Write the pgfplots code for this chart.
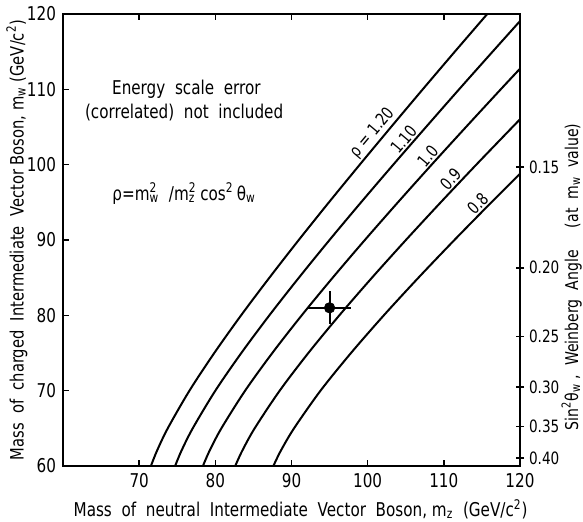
\documentclass[border=0pt]{standalone}
\usepackage{fontspec}
\setmainfont[FakeStretch=0.8]{DejaVu Sans}
\usepackage{pgfplots}
\pgfplotsset{compat=1.18}

% stacked super/subscript in text
\newcommand\supsub[2]{\rlap{\textsuperscript{#1}}\textsubscript{#2}}

\begin{document}
\begin{tikzpicture}[font=\fontsize{9.5}{11}\selectfont]
\begin{axis}[
    scale only axis,
    width=228.5pt, height=226pt,
    xmin=60, xmax=120, ymin=60, ymax=120,
    xtick={70,80,...,120},
    ytick={60,70,...,120},
    ytick pos=left,
    tick align=inside,
    major tick length=3pt,
    axis line style={line width=0.8pt},
    tick style={line width=0.8pt, black},
    /pgf/number format/assume math mode=true,
    xlabel={Mass\ \ of\ \ neutral\ \ Intermediate\ \ Vector\ \ Boson,\ m\textsubscript{z}\ \ (GeV/c\textsuperscript{2})},
    xlabel style={at={(axis description cs:0.52,-0.096)}, anchor=center},
    ylabel={Mass\ \ of\ \ charged\ \ Intermediate\ \ Vector\ Boson,\ m\textsubscript{w}\ (GeV/c\textsuperscript{2})},
    ylabel style={at={(axis description cs:-0.101,0.5)}, anchor=center, font=\fontsize{9.2}{11}\selectfont},
  ]
  % rho = 1.20
  \addplot[black, line width=1pt, smooth] coordinates {
    (71.54,60) (72.33,62) (73.75,65) (76.60,70) (79.86,75) (83.38,80) (87.10,85)
    (90.95,90) (94.91,95) (98.96,100) (103.07,105) (107.23,110) (111.44,115) (115.70,120)};
  % rho = 1.10
  \addplot[black, line width=1pt, smooth] coordinates {
    (74.72,60) (75.54,62) (77.03,65) (80.00,70) (83.41,75) (87.09,80) (90.97,85)
    (94.99,90) (99.13,95) (103.36,100) (107.66,105) (112.00,110) (116.40,115) (120,119.06)};
  % rho = 1.0
  \addplot[black, line width=1pt, smooth] coordinates {
    (78.37,60) (79.23,62) (80.79,65) (83.91,70) (87.48,75) (91.34,80) (95.41,85)
    (99.63,90) (103.97,95) (108.40,100) (112.91,105) (117.47,110) (120,112.74)};
  % rho = 0.9
  \addplot[black, line width=1pt, smooth] coordinates {
    (82.61,60) (83.52,62) (85.16,65) (88.45,70) (92.21,75) (96.28,80) (100.57,85)
    (105.02,90) (109.59,95) (114.26,100) (119.02,105) (120,106.02)};
  % rho = 0.8
  \addplot[black, line width=1pt, smooth] coordinates {
    (87.62,60) (88.58,62) (90.33,65) (93.81,70) (97.81,75) (102.12,80) (106.67,85)
    (111.39,90) (116.24,95) (120,98.79)};

  % measurement
  \addplot[black, only marks, mark=*, mark size=2.6pt,
    error bars/.cd, x dir=both, x explicit, y dir=both, y explicit,
    error mark=none, error bar style={line width=1pt}]
    coordinates {(95,81) +- (2.85,2.2)};

  \node at (axis cs:76.2,110.0) {Energy\ \ scale\ \ error};
  \node at (axis cs:75.9,106.9) {(correlated)\ \ not\ \ included};
  \node at (axis cs:75.9,96.2) {ρ=m\supsub{2}{w}\ \ /m\supsub{2}{z}\ cos\textsuperscript{2}\,θ\textsubscript{w}};

  % curve labels sit on their curves
  \node[rotate=50, anchor=south, inner sep=1pt, font=\fontsize{8.5}{10}\selectfont] at (axis cs:101.67,103.3) {ρ = 1.20};
  \node[rotate=50, anchor=south, inner sep=1pt, font=\fontsize{8.5}{10}\selectfont] at (axis cs:105.6,102.6) {1.10};
  \node[rotate=50, anchor=south, inner sep=1pt, font=\fontsize{8.5}{10}\selectfont] at (axis cs:108.76,100.4) {1.0};
  \node[rotate=48, anchor=south, inner sep=1pt, font=\fontsize{8.5}{10}\selectfont] at (axis cs:111.74,97.3) {0.9};
  \node[rotate=46, anchor=south, inner sep=1pt, font=\fontsize{8.5}{10}\selectfont] at (axis cs:115.27,94.0) {0.8};

  \coordinate (bbl) at (rel axis cs:-0.1379,-0.1217);
  \coordinate (btr) at (rel axis cs:1.1379,1.031);
\end{axis}
\begin{axis}[
    scale only axis,
    width=228.5pt, height=226pt,
    xmin=60, xmax=120, ymin=60, ymax=120,
    axis y line*=right,
    hide x axis,
    clip=false,
    ytick={99.67,86.31,77.20,70.47,65.25,61.03},
    yticklabels={0.15,0.20,0.25,0.30,0.35,0.40},
    yticklabel style={font=\fontsize{8.5}{10}\selectfont, xshift=-1pt},
    tick align=center,
    major tick length=4pt,
    axis line style={line width=0.8pt},
    tick style={line width=0.8pt, black},
    /pgf/number format/assume math mode=true,
  ]
  \node[rotate=90, font=\fontsize{8.8}{10}\selectfont] at (rel axis cs:1.113,0.418)
    {Sin\textsuperscript{2}θ\textsubscript{w}\ ,\ \ Weinberg\ \ Angle\quad\ (at\ \ m\textsubscript{w}\ \ value)};
\end{axis}
\pgfresetboundingbox
\path (bbl) rectangle (btr);
\end{tikzpicture}
\end{document}
